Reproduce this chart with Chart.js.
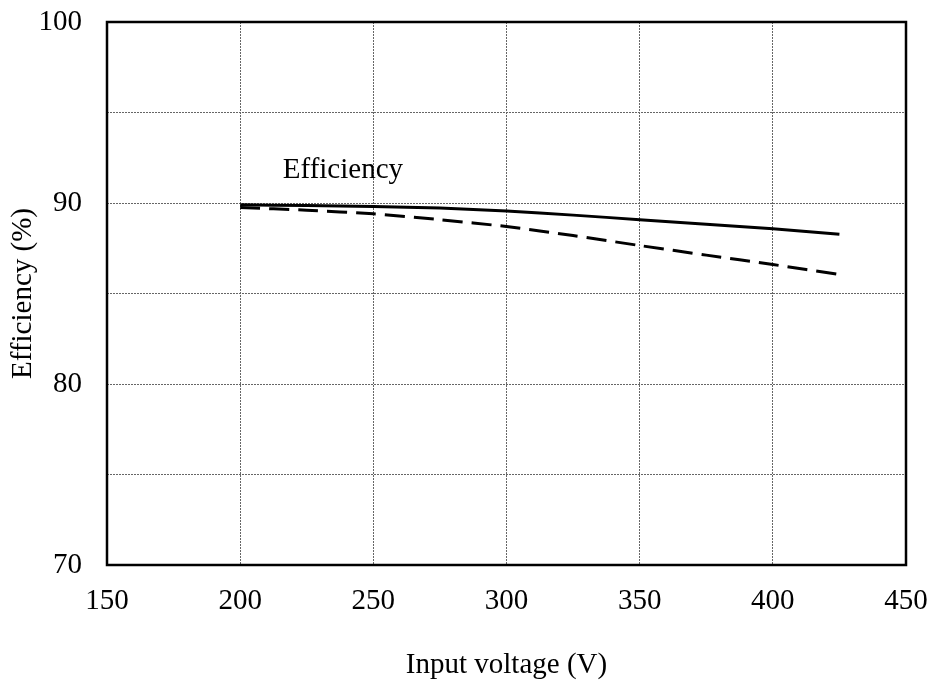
<!DOCTYPE html>
<html>
<head>
<meta charset="utf-8">
<script src="https://cdn.jsdelivr.net/npm/chart.js@4/dist/chart.umd.min.js"></script>
<style>
  html, body { margin: 0; padding: 0; background: #fff; }
  #wrap { width: 931px; height: 680px; position: relative; }
</style>
</head>
<body>
<div id="wrap"><canvas id="effChart"></canvas></div>
<script>
// --- Data ---
const inputVoltage = [200, 225, 250, 275, 300, 325, 350, 375, 400, 425];
const effSolid = [89.9, 89.86, 89.8, 89.72, 89.56, 89.33, 89.08, 88.83, 88.58, 88.27];
const effDashed = [89.75, 89.6, 89.4, 89.08, 88.7, 88.2, 87.65, 87.12, 86.6, 86.05];
const xTicks = [150, 200, 250, 300, 350, 400, 450];
const yTicks = [70, 80, 90, 100];
const curveLabel = { text: 'Efficiency', x: 216, y: 91.8 };

const serif = '"Liberation Serif", "Times New Roman", serif';
const fontSize = 29;

const toPoints = (ys) => inputVoltage.map((x, i) => ({ x, y: ys[i] }));

// Outer frame and the text label next to the curves
const framePlugin = {
    id: 'frame',
    afterDraw(chart) {
        const { ctx, chartArea: a, scales } = chart;
        ctx.save();
        ctx.strokeStyle = '#000';
        ctx.lineWidth = 2.5;
        ctx.strokeRect(a.left, a.top, a.right - a.left, a.bottom - a.top);
        ctx.fillStyle = '#000';
        ctx.font = fontSize + 'px ' + serif;
        ctx.textBaseline = 'middle';
        ctx.textAlign = 'left';
        ctx.fillText(curveLabel.text, scales.x.getPixelForValue(curveLabel.x), scales.y.getPixelForValue(curveLabel.y));
        ctx.restore();
    }
};

const gridOpts = { color: '#666', lineWidth: 1, drawTicks: false };
const borderOpts = { display: false, dash: [2, 1] };

const ctx = document.getElementById('effChart').getContext('2d');
new Chart(ctx, {
    type: 'line',
    data: {
        datasets: [
            {
                data: toPoints(effSolid),
                borderColor: '#000',
                borderWidth: 3,
                pointRadius: 0,
                tension: 0.2
            },
            {
                data: toPoints(effDashed),
                borderColor: '#000',
                borderWidth: 3,
                borderDash: [20, 9],
                pointRadius: 0,
                tension: 0.2
            }
        ]
    },
    options: {
        responsive: true,
        maintainAspectRatio: false,
        animation: false,
        layout: { padding: { top: 22, right: 25, left: 0, bottom: 0 } },
        plugins: {
            legend: { display: false },
            tooltip: { enabled: false }
        },
        scales: {
            x: {
                type: 'linear',
                min: 150,
                max: 450,
                afterBuildTicks: (s) => { s.ticks = xTicks.map(v => ({ value: v })); },
                afterFit: (s) => {
                    s.height = 115;
                    s.paddingLeft = 0;
                    s.paddingRight = 0;
                },
                grid: gridOpts,
                border: borderOpts,
                ticks: { color: '#000', font: { family: serif, size: fontSize }, padding: 19, maxRotation: 0 },
                title: {
                    display: true,
                    text: 'Input voltage (V)',
                    color: '#000',
                    font: { family: serif, size: fontSize },
                    padding: { top: 0, bottom: -3 }
                }
            },
            y: {
                min: 70,
                max: 100,
                afterBuildTicks: (s) => {
                    const t = [];
                    for (let v = 70; v <= 100; v += 5) t.push({ value: v });
                    s.ticks = t;
                },
                afterFit: (s) => {
                    s.width = 107;
                    s.paddingTop = 0;
                    s.paddingBottom = 0;
                },
                grid: gridOpts,
                border: borderOpts,
                ticks: {
                    color: '#000',
                    font: { family: serif, size: fontSize },
                    padding: 25,
                    callback: (v) => yTicks.includes(v) ? String(v) : ''
                },
                title: {
                    display: true,
                    text: 'Efficiency (%)',
                    color: '#000',
                    font: { family: serif, size: fontSize },
                    padding: { top: 6, bottom: 0 }
                }
            }
        }
    },
    plugins: [framePlugin]
});
</script>
</body>
</html>
